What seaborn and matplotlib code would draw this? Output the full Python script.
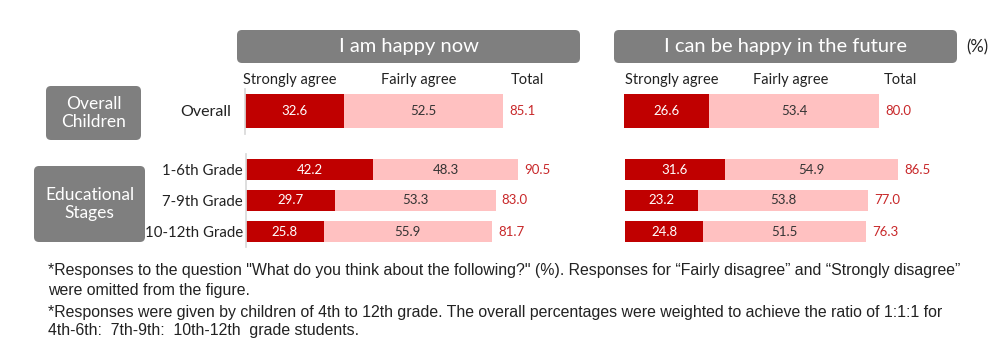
import matplotlib
matplotlib.use("Agg")
import matplotlib.pyplot as plt
from matplotlib.patches import FancyBboxPatch
import seaborn as sns
import pandas as pd

# ---------------- data ----------------
panels = ["I am happy now", "I can be happy in the future"]
overall_label = ["Overall"]
stage_labels = ["1-6th Grade", "7-9th Grade", "10-12th Grade"]

now_strong_overall = [32.6]
now_fairly_overall = [52.5]
now_total_overall = [85.1]
now_strong_stage = [42.2, 29.7, 25.8]
now_fairly_stage = [48.3, 53.3, 55.9]
now_total_stage = [90.5, 83.0, 81.7]

fut_strong_overall = [26.6]
fut_fairly_overall = [53.4]
fut_total_overall = [80.0]
fut_strong_stage = [31.6, 23.2, 24.8]
fut_fairly_stage = [54.9, 53.8, 51.5]
fut_total_stage = [86.5, 77.0, 76.3]

col_headers = ["Strongly agree", "Fairly agree", "Total"]
group_boxes = ["Overall\nChildren", "Educational\nStages"]
footnote = [
    "*Responses to the question \"What do you think about the following?\" (%). Responses for \u201cFairly disagree\u201d and \u201cStrongly disagree\u201d",
    "were omitted from the figure.",
    "*Responses were given by children of 4th to 12th grade. The overall percentages were weighted to achieve the ratio of 1:1:1 for",
    "4th-6th:  7th-9th:  10th-12th  grade students.",
]

# ---------------- style ----------------
sns.set_theme(style="white")
FONT = ["Lato", "DejaVu Sans"]
plt.rcParams["font.family"] = FONT
DARK = "#C00000"
LIGHT = "#FFC1C1"
GRAY = "#7F7F7F"
TOTAL_C = "#C8282A"

W, H = 1000, 347
fig = plt.figure(figsize=(W / 100, H / 100), dpi=100)


def px_axes(x0, y0, x1, y1):
    # pixel box (top-left origin) -> figure axes
    return fig.add_axes([x0 / W, 1 - y1 / H, (x1 - x0) / W, (y1 - y0) / H])


def draw(ax, labels, strong, fairly, total, width, xmax, show_labels, spine, lsize):
    df = pd.DataFrame({"cat": labels, "strong": strong, "fairly": fairly, "total": total})
    sns.barplot(data=df, x="total", y="cat", orient="h", color=LIGHT, width=width,
                ax=ax, saturation=1, linewidth=0, errorbar=None)
    sns.barplot(data=df, x="strong", y="cat", orient="h", color=DARK, width=width,
                ax=ax, saturation=1, linewidth=0, errorbar=None)
    ax.set_xlim(0, xmax)
    ax.set_ylim(len(labels) - 0.5, -0.5)
    ax.set_xlabel("")
    ax.set_ylabel("")
    ax.set_xticks([])
    for s in ["top", "right", "bottom"]:
        ax.spines[s].set_visible(False)
    ax.spines["left"].set_visible(spine)
    ax.spines["left"].set_color("#D9D9D9")
    ax.patch.set_alpha(0)
    if show_labels:
        ax.tick_params(axis="y", length=0, pad=2, labelsize=lsize, labelcolor="#222222")
    else:
        ax.set_yticks([])
    for i, (s, f, t) in enumerate(zip(strong, fairly, total)):
        ax.text(s / 2, i, f"{s:.1f}", ha="center", va="center", color="white", fontsize=9.5)
        ax.text(s + f / 2, i, f"{f:.1f}", ha="center", va="center", color="#333333", fontsize=9.5)
        ax.text(t + xmax * 0.02, i, f"{t:.1f}", ha="left", va="center", color=TOTAL_C, fontsize=9.5)


# left panel
ax1 = px_axes(245, 88.5, 245 + 303, 133.5)
draw(ax1, overall_label, now_strong_overall, now_fairly_overall, now_total_overall, 0.755, 100, True, True, 11.5)
ax2 = px_axes(246, 154, 246 + 301, 247)
draw(ax2, stage_labels, now_strong_stage, now_fairly_stage, now_total_stage, 0.68, 100, True, True, 10.8)
ax1.tick_params(axis="y", pad=10)

# right panel
ax3 = px_axes(624, 88.5, 624 + 319, 133.5)
draw(ax3, overall_label, fut_strong_overall, fut_fairly_overall, fut_total_overall, 0.755, 100, False, False, 11)
ax4 = px_axes(625, 154, 625 + 315.5, 247)
draw(ax4, stage_labels, fut_strong_stage, fut_fairly_stage, fut_total_stage, 0.68, 100, False, False, 11)

# overlay axes for boxes/text in pixel coords
ov = fig.add_axes([0, 0, 1, 1], zorder=-1)
ov.set_xlim(0, W)
ov.set_ylim(H, 0)
ov.axis("off")


def rbox(x0, y0, x1, y1, text, fs):
    ov.add_patch(FancyBboxPatch((x0 + 5, y0 + 5), x1 - x0 - 10, y1 - y0 - 10,
                                boxstyle="round,pad=5", fc=GRAY, ec="none"))
    ov.text((x0 + x1) / 2, (y0 + y1) / 2, text, ha="center", va="center",
            color="white", fontsize=fs, linespacing=1.15)


rbox(237, 30, 580, 63, panels[0], 14.5)
rbox(614, 30, 957, 63, panels[1], 14.5)
ov.text(977, 47, "(%)", ha="center", va="center", fontsize=12, color="#222222")
rbox(46, 86, 141, 140, group_boxes[0], 12.5)
rbox(34, 166, 145, 242, group_boxes[1], 12.5)

for x, t in zip([290, 419, 527], col_headers):
    ov.text(x, 80, t, ha="center", va="center", fontsize=10.5, color="#222222")
for x, t in zip([672, 791, 900], col_headers):
    ov.text(x, 80, t, ha="center", va="center", fontsize=10.5, color="#222222")

note_font = ["Liberation Sans", "DejaVu Sans"]
for y, line in zip([270, 291, 312, 331], footnote):
    ov.text(48, y, line, ha="left", va="center", fontsize=11.4, color="#222222", family=note_font)

fig.savefig("out.png", dpi=100)
